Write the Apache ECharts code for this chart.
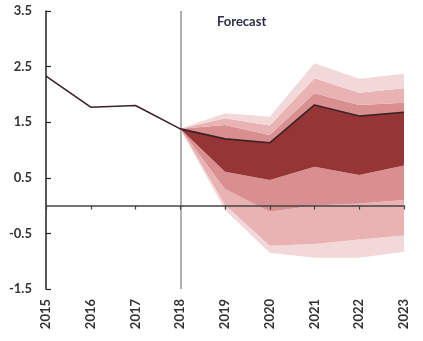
<!DOCTYPE html>
<html>
<head>
<meta charset="utf-8">
<script src="https://cdn.jsdelivr.net/npm/echarts@6/dist/echarts.min.js"></script>
<style>
html,body{margin:0;padding:0;background:#fff;}
#chart{width:423px;height:341px;}
</style>
</head>
<body>
<div id="chart"></div>
<script>
var years = ['2015','2016','2017','2018','2019','2020','2021','2022','2023'];
var yTicks = [-1.5, -0.5, 0.5, 1.5, 2.5, 3.5];
// central projection (history + forecast)
var central = [2.33, 1.77, 1.80, 1.38, 1.20, 1.13, 1.81, 1.61, 1.68];
// fan boundaries (forecast only)
var upper4 = [null, null, null, 1.38, 1.66, 1.60, 2.56, 2.28, 2.37];
var upper3 = [null, null, null, 1.38, 1.57, 1.44, 2.29, 2.03, 2.11];
var upper2 = [null, null, null, 1.38, 1.45, 1.27, 2.02, 1.81, 1.85];
var lower1 = [null, null, null, 1.38, 0.61, 0.46, 0.70, 0.55, 0.72];
var lower2 = [null, null, null, 1.38, 0.30, -0.11, 0.00, 0.04, 0.10];
var lower3 = [null, null, null, 1.38, 0.01, -0.72, -0.69, -0.61, -0.54];
var lower4 = [null, null, null, 1.38, -0.08, -0.85, -0.94, -0.94, -0.83];

var fanCentral = central.map(function(v, i){ return upper4[i] == null ? null : v; });
// ordered boundaries from bottom to top, with band colours
var bounds = [lower4, lower3, lower2, lower1, fanCentral, upper2, upper3, upper4];
var colors = ['#f2d8d8', '#e9b3b3', '#d98f8f', '#953535', '#d98f8f', '#e9b3b3', '#f2d8d8'];

function diff(a, b){
  return a.map(function(v, i){ return v == null ? null : +(v - b[i]).toFixed(4); });
}

var series = [];
series.push({
  type: 'line', stack: 'fan', stackStrategy: 'all', data: lower4,
  symbol: 'none', lineStyle: {width: 0, opacity: 0}, areaStyle: {opacity: 0},
  silent: true, z: 1
});
for (var k = 1; k < bounds.length; k++) {
  series.push({
    type: 'line', stack: 'fan', stackStrategy: 'all', data: diff(bounds[k], bounds[k-1]),
    symbol: 'none', lineStyle: {width: 0, opacity: 0},
    areaStyle: {color: colors[k-1], opacity: 1},
    silent: true, z: 1
  });
}
series.push({
  type: 'line', data: central, symbol: 'none', z: 5,
  lineStyle: {color: '#3a2226', width: 1.6},
  markLine: {
    silent: true, symbol: 'none', label: {show: false},
    lineStyle: {color: '#b0b0b0', width: 2, type: 'solid'},
    data: [{xAxis: '2018'}]
  }
});

var chart = echarts.init(document.getElementById('chart'), null, {renderer: 'canvas'});
chart.setOption({
  animation: false,
  backgroundColor: '#fff',
  grid: {left: 46, right: 19, top: 11, bottom: 52},
  xAxis: [{
    type: 'category', data: years, boundaryGap: false, position: 'bottom',
    axisLine: {show: false, onZero: false}, axisTick: {show: false},
    axisLabel: {rotate: 90, margin: 10, color: '#333', fontFamily: 'Lato', fontWeight: 'bold', fontSize: 13},
    splitLine: {show: false}
  }, {
    type: 'category', data: years, boundaryGap: false, position: 'bottom',
    axisLine: {show: true, onZero: true, lineStyle: {color: '#444', width: 1.5}},
    axisTick: {show: true, length: 4, lineStyle: {color: '#444', width: 1.2}},
    axisLabel: {show: false}, splitLine: {show: false}, z: 10
  }],
  yAxis: {
    type: 'value', min: -1.5, max: 3.5, interval: 1,
    axisLine: {show: true, onZero: false, lineStyle: {color: '#222', width: 1.5}},
    axisTick: {show: true, inside: true, length: 5, lineStyle: {color: '#222', width: 1.2}},
    splitLine: {show: false},
    axisLabel: {margin: 14, color: '#333', fontFamily: 'Lato', fontWeight: 'bold', fontSize: 13,
      formatter: function(v){ return yTicks.indexOf(+v.toFixed(1)) >= 0 ? v.toFixed(1) : ''; }}
  },
  graphic: [{
    type: 'text', left: 217, top: 15,
    style: {text: 'Forecast', fill: '#2b2d48', font: 'bold 13px Lato'}
  }],
  series: series
});
</script>
</body>
</html>
